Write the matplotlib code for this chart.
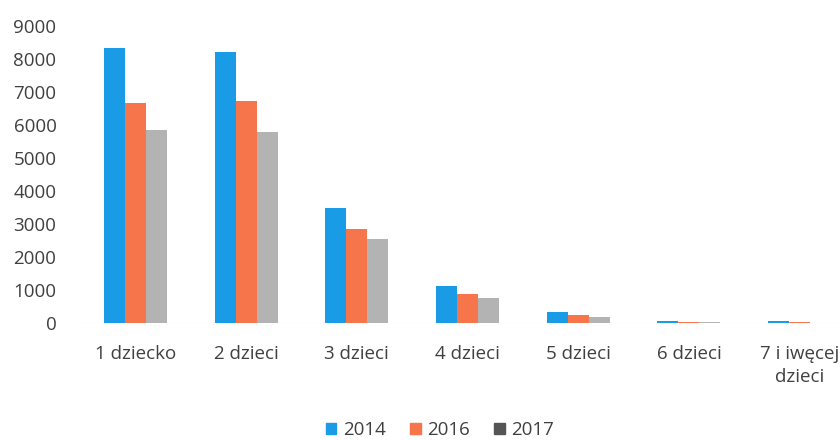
import matplotlib.pyplot as plt
from matplotlib.patches import Patch
import numpy as np

categories = ["1 dziecko", "2 dzieci", "3 dzieci", "4 dzieci", "5 dzieci", "6 dzieci", "7 i iwęcej\ndzieci"]
years = ["2014", "2016", "2017"]
v2014 = [8340, 8220, 3500, 1120, 330, 60, 60]
v2016 = [6680, 6740, 2840, 880, 240, 40, 20]
v2017 = [5860, 5800, 2540, 760, 180, 20, 10]
yticks = [0, 1000, 2000, 3000, 4000, 5000, 6000, 7000, 8000, 9000]

colors = ["#1a9be6", "#f7754a", "#b3b3b3"]
plt.rcParams['font.family'] = ['Open Sans', 'DejaVu Sans']

fig = plt.figure(figsize=(8.4, 4.4), dpi=100)
ax = fig.add_axes([80 / 840, 117 / 440, 775 / 840, 297 / 440])

x = np.arange(len(categories))
w = 0.19
series = [v2014, v2016, v2017]
for i, (vals, c) in enumerate(zip(series, colors)):
    ax.bar(x + (i - 1) * w, vals, w, color=c, zorder=3)

ax.set_xlim(-0.5, len(categories) - 0.5)
ax.set_ylim(0, 9000)
ax.set_yticks(yticks)
ax.set_yticklabels([str(t) for t in yticks])
ax.set_xticks(x)
ax.set_xticklabels(categories, linespacing=1.35)
ax.tick_params(axis='both', length=0, labelsize=13.5, colors="#404040")
ax.tick_params(axis='y', pad=17)
ax.tick_params(axis='x', pad=16)
for s in ax.spines.values():
    s.set_visible(False)
ax.axhline(0, color="#ececec", lw=0.8, zorder=2)

legend_colors = ["#1a9be6", "#f7754a", "#555555"]
handles = [Patch(color=c) for c in legend_colors]
fig.legend(handles, years, loc="center", bbox_to_anchor=(440 / 840, 1 - 430 / 440),
           ncol=3, frameon=False, fontsize=13.5, handlelength=0.55, handleheight=0.55,
           handletextpad=0.35, columnspacing=1.3, labelcolor="#404040")

fig.savefig("out.png", dpi=100)
